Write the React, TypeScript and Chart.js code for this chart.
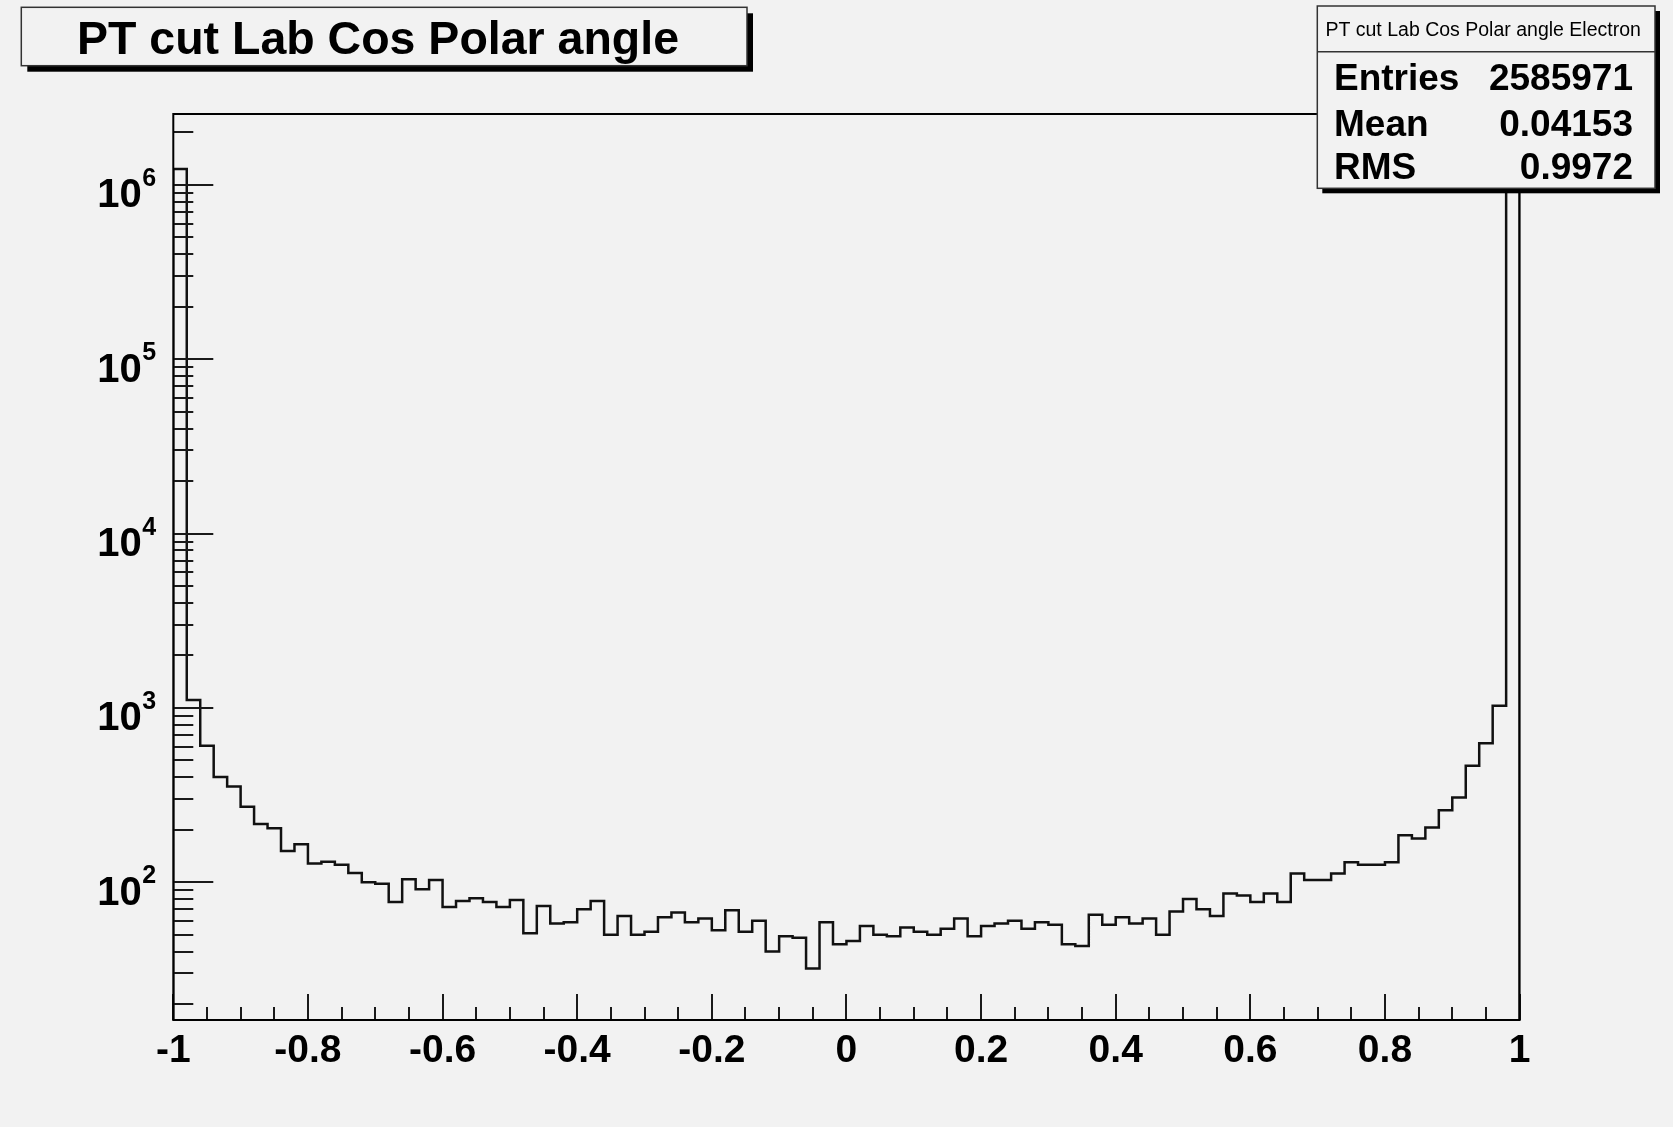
import React, { useEffect, useRef } from "react";
import { Chart, registerables } from "chart.js";

Chart.register(...registerables);

// ---------- data ----------
const X_MIN = -1;
const X_MAX = 1;
const Y_MIN = 16.2;
const Y_MAX = 2.55e6;

// 100 bins of cos(theta) from -1 to 1
const binCounts = [
  1233000, 1110, 606, 401, 354, 271, 216, 204, 151, 165,
  128, 131, 126, 113, 100, 98, 77, 104, 91, 103,
  72, 78, 81, 77, 72, 79, 51, 73, 58, 59,
  70, 78, 50, 64, 50, 52, 63, 67, 59, 62,
  53, 69, 52, 60, 40, 49, 48, 32, 59, 44,
  46, 56, 50, 49, 55, 52, 50, 54, 62, 49,
  56, 58, 60, 54, 59, 57, 44, 43, 65, 57,
  63, 58, 62, 50, 68, 80, 70, 64, 86, 84,
  77, 86, 77, 112, 103, 103, 112, 130, 126, 126,
  130, 186, 178, 206, 259, 306, 465, 627, 1028, 1341000,
];

const xTickValues = [-1, -0.8, -0.6, -0.4, -0.2, 0, 0.2, 0.4, 0.6, 0.8, 1];
const yDecades = [100, 1000, 10000, 100000, 1000000];
const yExponents = ["2", "3", "4", "5", "6"];

const titleText = "PT cut Lab Cos Polar angle";
const statsTitle = "PT cut Lab Cos Polar angle Electron";
const statsLabels = ["Entries", "Mean", "RMS"];
const statsValues = ["2585971", "0.04153", "0.9972"];

// ---------- style ----------
const BG = "#f2f2f2";
const FONT = "'Liberation Sans', Arial, Helvetica, sans-serif";
const W = 1673;
const H = 1127;

const binWidth = (X_MAX - X_MIN) / binCounts.length;
const points = [
  { x: X_MIN, y: Y_MIN },
  ...binCounts.map((c, i) => ({ x: X_MIN + i * binWidth, y: c })),
  { x: X_MAX, y: Y_MIN },
];

const rootPlugin = {
  id: "rootStyle",
  beforeDraw(chart: any) {
    const ctx = chart.ctx;
    ctx.save();
    ctx.fillStyle = BG;
    ctx.fillRect(0, 0, chart.width, chart.height);
    ctx.restore();
  },
  afterDatasetsDraw(chart: any) {
    const ctx = chart.ctx;
    const a = chart.chartArea;
    const xs = chart.scales.x;
    const ys = chart.scales.y;
    ctx.save();
    ctx.strokeStyle = "#1a1a1a";
    ctx.lineWidth = 2;
    // x ticks (inside, upward)
    const nMinor = Math.round((X_MAX - X_MIN) / 0.05);
    for (let i = 0; i <= nMinor; i++) {
      const v = X_MIN + i * 0.05;
      const px = Math.round(xs.getPixelForValue(v));
      const len = i % 4 === 0 ? 26 : 13;
      ctx.beginPath();
      ctx.moveTo(px, a.bottom);
      ctx.lineTo(px, a.bottom - len);
      ctx.stroke();
    }
    // y ticks (inside, rightward)
    const eMin = Math.floor(Math.log10(Y_MIN));
    const eMax = Math.ceil(Math.log10(Y_MAX));
    for (let e = eMin; e <= eMax; e++) {
      for (let m = 1; m <= 9; m++) {
        const v = m * Math.pow(10, e);
        if (v < Y_MIN || v > Y_MAX) continue;
        const py = Math.round(ys.getPixelForValue(v));
        const len = m === 1 ? 40 : 20;
        ctx.beginPath();
        ctx.moveTo(a.left, py);
        ctx.lineTo(a.left + len, py);
        ctx.stroke();
      }
    }
    // frame
    ctx.strokeStyle = "#000";
    ctx.lineWidth = 2;
    ctx.strokeRect(a.left, a.top, a.right - a.left, a.bottom - a.top);
    ctx.restore();
  },
  afterDraw(chart: any) {
    const ctx = chart.ctx;
    const a = chart.chartArea;
    const ys = chart.scales.y;
    ctx.save();
    // y labels 10^n
    ctx.fillStyle = "#000";
    yDecades.forEach((d, i) => {
      const py = ys.getPixelForValue(d);
      ctx.font = `bold 40px ${FONT}`;
      ctx.textAlign = "right";
      ctx.textBaseline = "alphabetic";
      ctx.fillText("10", a.left - 31.5, py + 22.5);
      ctx.font = `bold 25px ${FONT}`;
      ctx.textAlign = "left";
      ctx.fillText(yExponents[i], a.left - 31, py + 1);
    });

    // title box
    const tb = { x: 21.3, y: 7.3, w: 725.7, h: 58.4 };
    ctx.fillStyle = "#000";
    ctx.fillRect(tb.x + 6, tb.y + 6, tb.w, tb.h);
    ctx.fillStyle = BG;
    ctx.fillRect(tb.x, tb.y, tb.w, tb.h);
    ctx.strokeStyle = "#333";
    ctx.lineWidth = 1.5;
    ctx.strokeRect(tb.x, tb.y, tb.w, tb.h);
    ctx.fillStyle = "#000";
    ctx.font = `bold 46.5px ${FONT}`;
    ctx.textAlign = "left";
    ctx.textBaseline = "alphabetic";
    ctx.fillText(titleText, 77, 53.5);

    // stats box
    const sb = { x: 1317.3, y: 6, w: 337.7, h: 182.3 };
    ctx.fillStyle = "#000";
    ctx.fillRect(sb.x + 5, sb.y + 5, sb.w, sb.h);
    ctx.fillStyle = BG;
    ctx.fillRect(sb.x, sb.y, sb.w, sb.h);
    ctx.strokeStyle = "#333";
    ctx.lineWidth = 1.5;
    ctx.strokeRect(sb.x, sb.y, sb.w, sb.h);
    ctx.beginPath();
    ctx.moveTo(sb.x, 51.7);
    ctx.lineTo(sb.x + sb.w, 51.7);
    ctx.stroke();
    ctx.fillStyle = "#000";
    ctx.font = `19.5px ${FONT}`;
    ctx.textAlign = "center";
    ctx.fillText(statsTitle, sb.x + sb.w / 2 - 3, 36);
    const baselines = [89.5, 136, 179];
    ctx.font = `bold 37px ${FONT}`;
    statsLabels.forEach((lab, i) => {
      ctx.textAlign = "left";
      ctx.fillText(lab, 1334, baselines[i]);
      ctx.textAlign = "right";
      ctx.fillText(statsValues[i], 1633, baselines[i]);
    });
    ctx.restore();
  },
};

export default function App() {
  const ref = useRef<HTMLCanvasElement | null>(null);
  useEffect(() => {
    document.body.style.margin = "0";
    document.body.style.background = BG;
    const canvas = ref.current;
    if (!canvas) return;
    const chart = new Chart(canvas, {
      type: "line",
      data: {
        datasets: [
          {
            data: points,
            stepped: "before",
            borderColor: "#111",
            borderWidth: 2.5,
            pointRadius: 0,
            fill: false,
            tension: 0,
          },
        ],
      },
      options: {
        responsive: false,
        animation: false,
        devicePixelRatio: 1,
        layout: { padding: { top: 114, right: 153.4, left: 0, bottom: 0 } },
        plugins: {
          legend: { display: false },
          tooltip: { enabled: false },
          title: { display: false },
        },
        scales: {
          x: {
            type: "linear",
            min: X_MIN,
            max: X_MAX,
            afterBuildTicks: (scale: any) => {
              scale.ticks = xTickValues.map((v) => ({ value: v }));
            },
            afterFit: (scale: any) => {
              scale.height = H - 1020;
            },
            ticks: {
              autoSkip: false,
              maxRotation: 0,
              padding: 8,
              color: "#000",
              font: { family: FONT, size: 39, weight: "bold" },
              callback: (v: any) => String(Math.round(Number(v) * 10) / 10),
            },
            grid: { display: false, drawTicks: false },
            border: { display: false },
          },
          y: {
            type: "logarithmic",
            min: Y_MIN,
            max: Y_MAX,
            afterFit: (scale: any) => {
              scale.width = 173.3;
            },
            ticks: { display: false },
            grid: { display: false, drawTicks: false },
            border: { display: false },
          },
        },
      },
      plugins: [rootPlugin],
    } as any);
    return () => chart.destroy();
  }, []);
  return (
    <div style={{ position: "fixed", left: 0, top: 0, width: W, height: H, background: BG }}>
      <canvas ref={ref} width={W} height={H} style={{ display: "block" }} />
    </div>
  );
}
